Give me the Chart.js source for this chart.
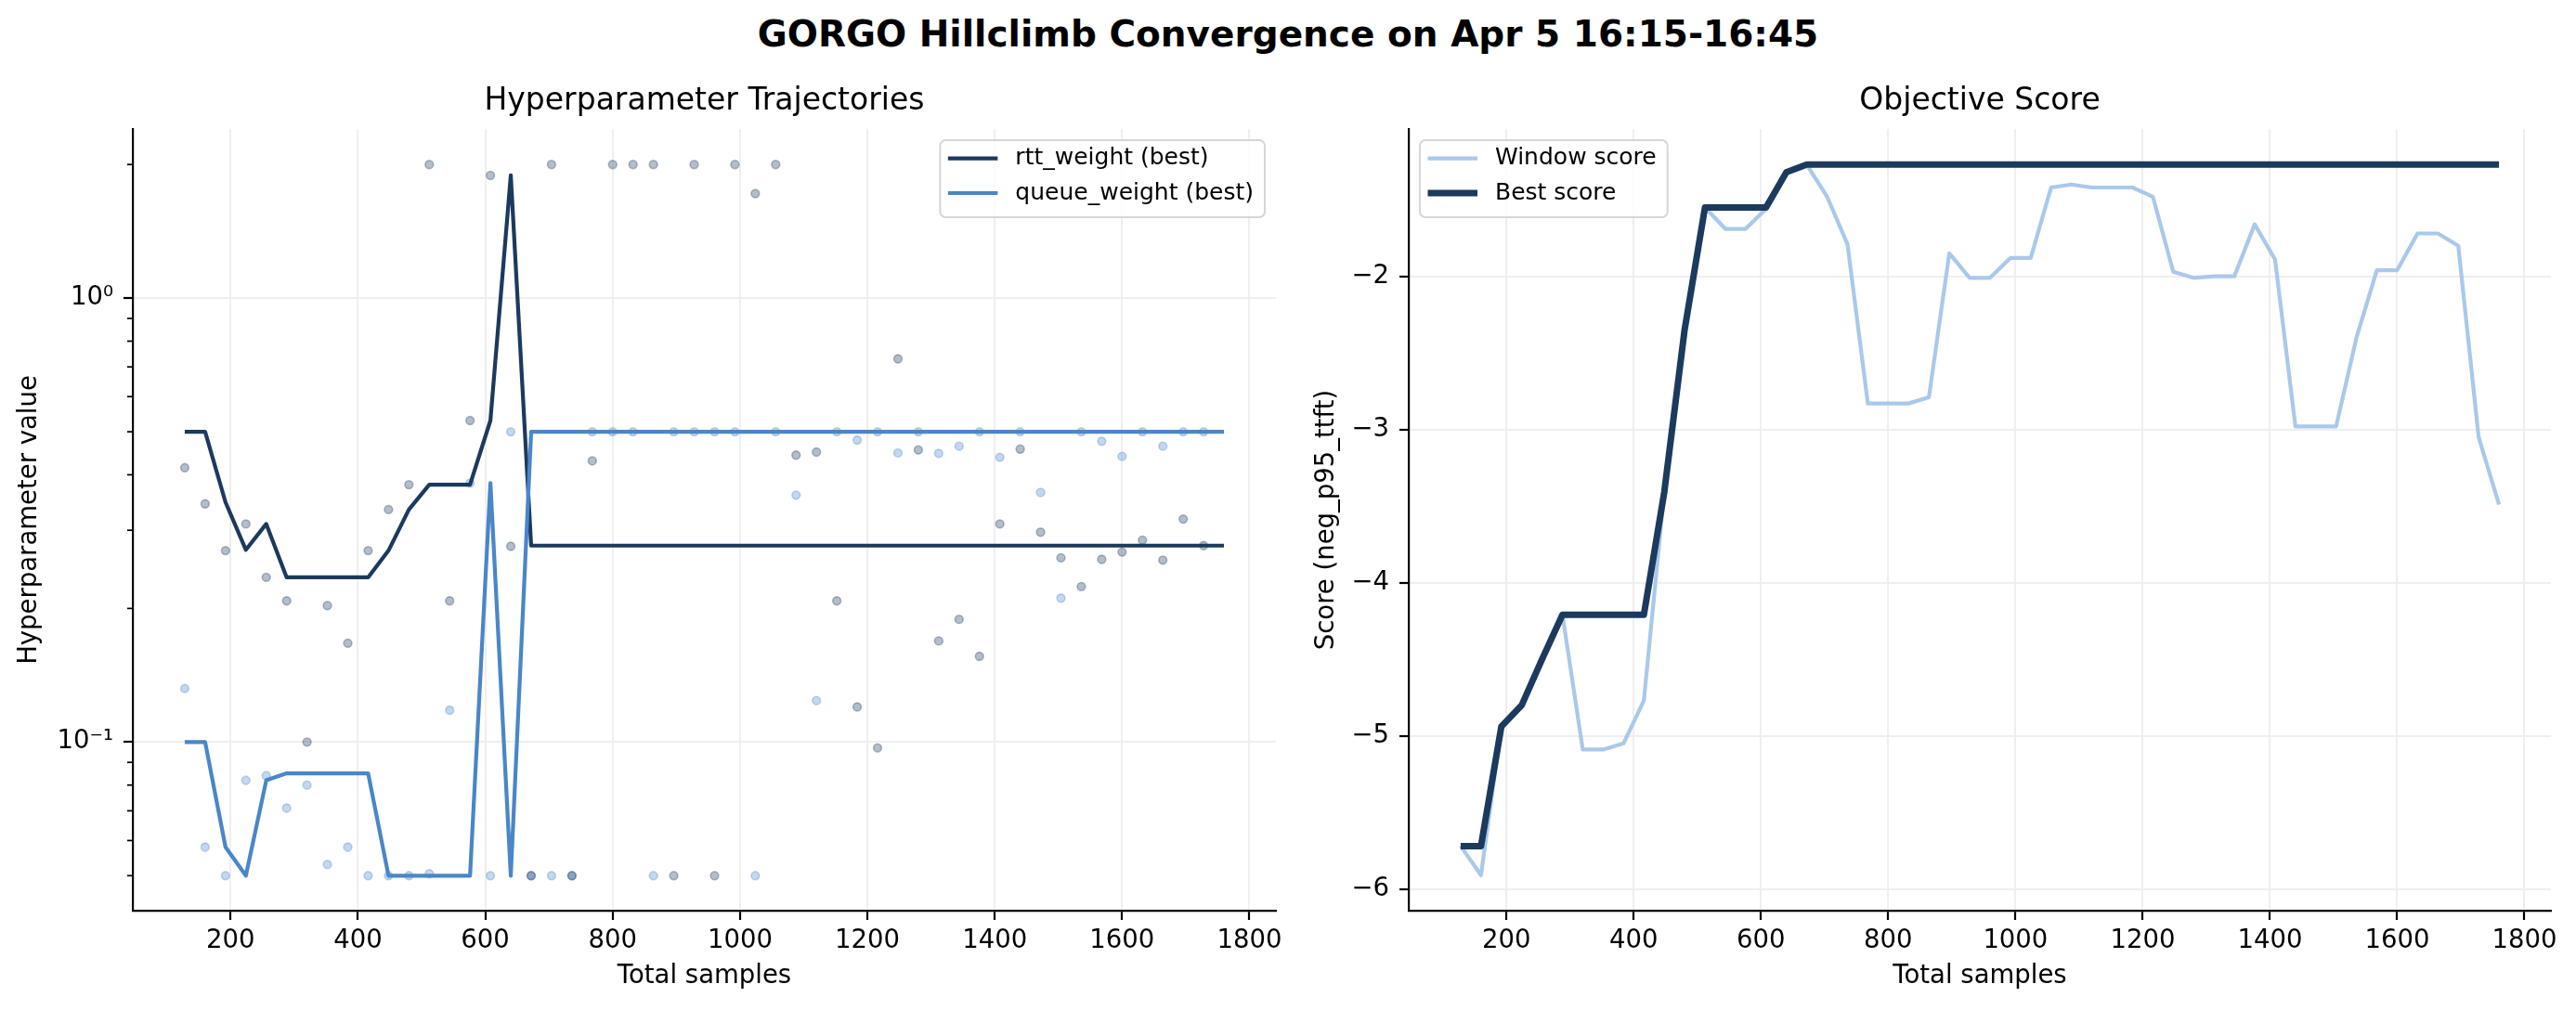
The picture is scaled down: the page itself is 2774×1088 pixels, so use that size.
<!DOCTYPE html>
<html>
<head>
<meta charset="utf-8">
<script src="https://cdn.jsdelivr.net/npm/chart.js@4.4.1/dist/chart.umd.min.js"></script>
<style>
html, body { margin: 0; padding: 0; background: #fff; }
#page { position: relative; width: 2774px; height: 1088px; overflow: hidden; }
#suptitle { position: absolute; left: 0; top: 17px; width: 2774px; text-align: center;
  font: bold 39px 'DejaVu Sans', sans-serif; line-height: 39px; color: #000; }
canvas { position: absolute; top: 0; }
</style>
</head>
<body>
<div id="page">
  <div id="suptitle">GORGO Hillclimb Convergence on Apr 5 16:15-16:45</div>
  <canvas id="hyperChart" width="1387" height="1088" style="left:0px"></canvas>
  <canvas id="scoreChart" width="1387" height="1088" style="left:1387px"></canvas>
</div>
<script>
// total samples at each window
const samples = [128, 160, 192, 224, 256, 288, 320, 352, 384, 416,
  448, 480, 512, 544, 576, 608, 640, 672, 704, 736,
  768, 800, 832, 864, 896, 928, 960, 992, 1024, 1056,
  1088, 1120, 1152, 1184, 1216, 1248, 1280, 1312, 1344, 1376,
  1408, 1440, 1472, 1504, 1536, 1568, 1600, 1632, 1664, 1696,
  1728, 1760];

// best-so-far hyperparameters
const rttBest = [0.5, 0.5, 0.347, 0.271, 0.31, 0.235, 0.235, 0.235, 0.235, 0.235,
  0.27, 0.334, 0.38, 0.38, 0.38, 0.53, 1.89, 0.277, 0.277, 0.277,
  0.277, 0.277, 0.277, 0.277, 0.277, 0.277, 0.277, 0.277, 0.277, 0.277,
  0.277, 0.277, 0.277, 0.277, 0.277, 0.277, 0.277, 0.277, 0.277, 0.277,
  0.277, 0.277, 0.277, 0.277, 0.277, 0.277, 0.277, 0.277, 0.277, 0.277,
  0.277, 0.277];
const queueBest = [0.1, 0.1, 0.058, 0.05, 0.082, 0.085, 0.085, 0.085, 0.085, 0.085,
  0.05, 0.05, 0.05, 0.05, 0.05, 0.383, 0.05, 0.5, 0.5, 0.5,
  0.5, 0.5, 0.5, 0.5, 0.5, 0.5, 0.5, 0.5, 0.5, 0.5,
  0.5, 0.5, 0.5, 0.5, 0.5, 0.5, 0.5, 0.5, 0.5, 0.5,
  0.5, 0.5, 0.5, 0.5, 0.5, 0.5, 0.5, 0.5, 0.5, 0.5,
  0.5, 0.5];

// values tried in each window (one per window, last window has none)
const rttTried = [0.415, 0.344, 0.27, 0.31, 0.235, 0.208, 0.1, 0.203, 0.167, 0.27,
  0.334, 0.38, 2.0, 0.208, 0.53, 1.89, 0.276, 0.05, 2.0, 0.05,
  0.43, 2.0, 2.0, 2.0, 0.05, 2.0, 0.05, 2.0, 1.72, 2.0,
  0.443, 0.45, 0.208, 0.12, 0.097, 0.73, 0.455, 0.169, 0.189, 0.156,
  0.31, 0.457, 0.297, 0.26, 0.224, 0.258, 0.268, 0.285, 0.257, 0.318,
  0.277];
const queueTried = [0.132, 0.058, 0.05, 0.082, 0.084, 0.071, 0.08, 0.053, 0.058, 0.05,
  0.05, 0.05, 0.0505, 0.118, 0.383, 0.05, 0.5, 0.05, 0.05, 0.05,
  0.5, 0.5, 0.5, 0.05, 0.5, 0.5, 0.5, 0.5, 0.05, 0.5,
  0.36, 0.124, 0.5, 0.479, 0.5, 0.448, 0.5, 0.447, 0.464, 0.5,
  0.438, 0.5, 0.365, 0.211, 0.5, 0.476, 0.44, 0.5, 0.464, 0.5,
  0.5];

// objective
const windowScore = [-5.72, -5.91, -4.94, -4.80, -4.50, -4.21, -5.09, -5.09, -5.05, -4.77,
  -3.41, -2.35, -1.55, -1.69, -1.69, -1.56, -1.32, -1.27, -1.48, -1.79,
  -2.83, -2.83, -2.83, -2.79, -1.85, -2.01, -2.01, -1.88, -1.88, -1.42,
  -1.40, -1.42, -1.42, -1.42, -1.48, -1.97, -2.01, -2.00, -2.00, -1.66,
  -1.89, -2.98, -2.98, -2.98, -2.40, -1.96, -1.96, -1.72, -1.72, -1.80,
  -3.05, -3.49];
const bestScore = [-5.72, -5.72, -4.94, -4.80, -4.50, -4.21, -4.21, -4.21, -4.21, -4.21,
  -3.41, -2.35, -1.55, -1.55, -1.55, -1.55, -1.32, -1.27, -1.27, -1.27,
  -1.27, -1.27, -1.27, -1.27, -1.27, -1.27, -1.27, -1.27, -1.27, -1.27,
  -1.27, -1.27, -1.27, -1.27, -1.27, -1.27, -1.27, -1.27, -1.27, -1.27,
  -1.27, -1.27, -1.27, -1.27, -1.27, -1.27, -1.27, -1.27, -1.27, -1.27,
  -1.27, -1.27];

// ticks
const xTicks = [200, 400, 600, 800, 1000, 1200, 1400, 1600, 1800];
const hyperTicks = [0.1, 1];
const hyperMinorTicks = [0.05, 0.06, 0.07, 0.08, 0.09, 0.2, 0.3, 0.4, 0.5, 0.6, 0.7, 0.8, 0.9, 2];
const scoreTicks = [-6, -5, -4, -3, -2];

const NAVY = '#1c3a5e';
const BLUE = '#4a86c8';
const PALE = '#a9c9ea';
const GRID = '#efefef';

Chart.defaults.font.family = "'DejaVu Sans', sans-serif";
Chart.defaults.color = '#000';

function pts(values) {
  return values.map((v, i) => ({ x: samples[i], y: v }));
}

// matplotlib-style legend box inside the plot
const boxLegend = {
  id: 'boxLegend',
  afterDraw(chart, args, opts) {
    const ctx = chart.ctx;
    const area = chart.chartArea;
    const items = chart.data.datasets.filter(d => !d.hideInLegend);
    ctx.save();
    ctx.font = "25px 'DejaVu Sans'";
    const textW = Math.max(...items.map(d => ctx.measureText(d.label).width));
    const w = 81 + textW + 12;
    const h = 83;
    const x = opts.side === 'right' ? area.right - 12 - w : area.left + 12;
    const y = area.top + 12;
    ctx.fillStyle = 'rgba(255,255,255,0.8)';
    ctx.strokeStyle = '#d6d6d6';
    ctx.lineWidth = 2;
    ctx.beginPath();
    ctx.roundRect(x, y, w, h, 6);
    ctx.fill();
    ctx.stroke();
    items.forEach((d, i) => {
      const cy = y + 19.7 + i * 37.3;
      ctx.strokeStyle = d.borderColor;
      ctx.lineWidth = d.borderWidth;
      ctx.beginPath();
      ctx.moveTo(x + 8.5, cy);
      ctx.lineTo(x + 62, cy);
      ctx.stroke();
      ctx.fillStyle = '#000';
      ctx.textBaseline = 'middle';
      ctx.textAlign = 'left';
      ctx.fillText(d.label, x + 81, cy);
    });
    ctx.restore();
  }
};

// short minor ticks on the log axis
const minorTicks = {
  id: 'minorTicks',
  afterDraw(chart) {
    const s = chart.scales.y;
    const ctx = chart.ctx;
    ctx.save();
    ctx.strokeStyle = '#000';
    ctx.lineWidth = 1.7;
    hyperMinorTicks.forEach(v => {
      const py = s.getPixelForValue(v);
      ctx.beginPath();
      ctx.moveTo(s.right - 6, py);
      ctx.lineTo(s.right, py);
      ctx.stroke();
    });
    ctx.restore();
  }
};

function xScale() {
  return {
    type: 'linear',
    min: 46.4,
    max: 1841.6,
    afterBuildTicks: s => { s.ticks = xTicks.map(v => ({ value: v })); },
    afterFit: s => { s.height = 107; },
    ticks: { font: { size: 27.5 }, padding: 6, color: '#000', maxRotation: 0, autoSkip: false,
      callback: v => String(v) },
    grid: { color: GRID, lineWidth: 2, tickColor: '#000', tickWidth: 2.2, tickLength: 10 },
    border: { color: '#000', width: 2.2 },
    title: { display: true, text: 'Total samples', font: { size: 27.5 }, color: '#000',
      padding: { top: 0, bottom: 19.3 } }
  };
}

function subTitle(text) {
  return { display: true, text: text, fullSize: false, color: '#000',
    font: { size: 33, weight: 'normal' }, padding: { top: 89.5, bottom: 9.9 } };
}

const dotStyle = (rgb) => ({
  showLine: false,
  pointRadius: 4.4,
  pointBorderWidth: 1.6,
  pointBackgroundColor: 'rgba(' + rgb + ',0.33)',
  pointBorderColor: 'rgba(' + rgb + ',0.32)',
  hideInLegend: true,
  order: 2
});

const hyperChart = new Chart(document.getElementById('hyperChart'), {
  type: 'line',
  data: {
    datasets: [
      Object.assign({ label: 'rtt_weight tried', data: pts(rttTried) }, dotStyle('28,58,94')),
      Object.assign({ label: 'queue_weight tried', data: pts(queueTried) }, dotStyle('74,134,200')),
      {
        label: 'rtt_weight (best)',
        data: pts(rttBest),
        borderColor: NAVY,
        borderWidth: 4.2,
        pointRadius: 0,
        tension: 0,
        borderJoinStyle: 'round',
        order: 1
      },
      {
        label: 'queue_weight (best)',
        data: pts(queueBest),
        borderColor: BLUE,
        borderWidth: 4.2,
        pointRadius: 0,
        tension: 0,
        borderJoinStyle: 'round',
        order: 0
      }
    ]
  },
  options: {
    responsive: false,
    animation: false,
    events: [],
    layout: { padding: { left: 0, right: 13, top: 0, bottom: 0 } },
    scales: {
      x: xScale(),
      y: {
        type: 'logarithmic',
        min: 0.0417,
        max: 2.404,
        afterBuildTicks: s => { s.ticks = hyperTicks.map(v => ({ value: v })); },
        afterFit: s => { s.width = 143; },
        ticks: { font: { size: 27.5 }, padding: 11, color: '#000',
          callback: v => (v > 0.5 ? '10\u2070' : '10\u207B\u00B9') },
        grid: { color: GRID, lineWidth: 2, tickColor: '#000', tickWidth: 2.2, tickLength: 10 },
        border: { color: '#000', width: 2.2 },
        title: { display: true, text: 'Hyperparameter value', font: { size: 27.5 }, color: '#000',
          padding: { top: 15.1, bottom: 0 } }
      }
    },
    plugins: {
      legend: { display: false },
      tooltip: { enabled: false },
      title: subTitle('Hyperparameter Trajectories'),
      boxLegend: { side: 'right' }
    }
  },
  plugins: [boxLegend, minorTicks]
});

const scoreChart = new Chart(document.getElementById('scoreChart'), {
  type: 'line',
  data: {
    datasets: [
      {
        label: 'Window score',
        data: pts(windowScore),
        borderColor: PALE,
        borderWidth: 4.2,
        pointRadius: 0,
        tension: 0,
        borderJoinStyle: 'round',
        order: 1
      },
      {
        label: 'Best score',
        data: pts(bestScore),
        borderColor: NAVY,
        borderWidth: 7,
        pointRadius: 0,
        tension: 0,
        borderJoinStyle: 'round',
        order: 0
      }
    ]
  },
  options: {
    responsive: false,
    animation: false,
    events: [],
    layout: { padding: { left: 0, right: 27, top: 0, bottom: 0 } },
    scales: {
      x: xScale(),
      y: {
        type: 'linear',
        min: -6.142,
        max: -1.038,
        afterBuildTicks: s => { s.ticks = scoreTicks.map(v => ({ value: v })); },
        afterFit: s => { s.width = 130; },
        ticks: { font: { size: 27.5 }, padding: 11, color: '#000',
          callback: v => (v < 0 ? '\u2212' : '') + Math.abs(v) },
        grid: { color: GRID, lineWidth: 2, tickColor: '#000', tickWidth: 2.2, tickLength: 10 },
        border: { color: '#000', width: 2.2 },
        title: { display: true, text: 'Score (neg_p95_ttft)', font: { size: 27.5 }, color: '#000',
          padding: { top: 25.5, bottom: 0 } }
      }
    },
    plugins: {
      legend: { display: false },
      tooltip: { enabled: false },
      title: subTitle('Objective Score'),
      boxLegend: { side: 'left' }
    }
  },
  plugins: [boxLegend]
});
</script>
</body>
</html>
